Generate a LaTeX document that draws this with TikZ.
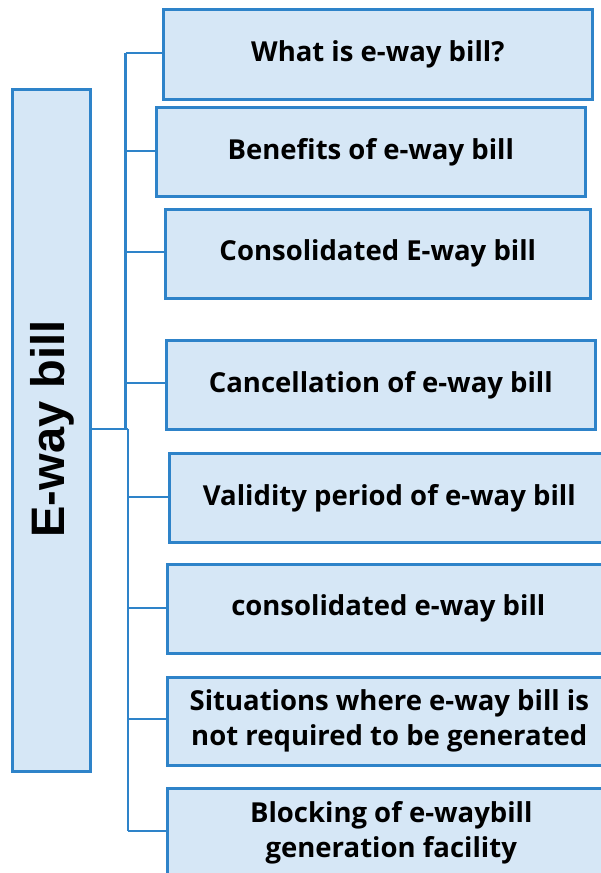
\documentclass[tikz,border=0pt]{standalone}
\usepackage{fontspec}
\setmainfont{Open Sans}
\newfontfamily\mainlabelfont{Liberation Sans}
\definecolor{edgeblue}{HTML}{2E83C9}
\definecolor{boxfill}{HTML}{D6E7F6}
\begin{document}
\begin{tikzpicture}[x=1pt,y=-1pt,
  topicbox/.style={draw=edgeblue, fill=boxfill, line width=2.6pt, inner sep=0pt,
    anchor=north west, align=center, font=\fontsize{27.5}{35}\selectfont\bfseries},
  mainbox/.style={draw=edgeblue, fill=boxfill, line width=2.6pt, inner sep=0pt,
    anchor=north west},
  link/.style={draw=edgeblue, line width=2.4pt}]
\clip (0,0) rectangle (601,873);
\fill[white] (0,0) rectangle (601,873);
% main box
\node[mainbox, minimum width=78pt, minimum height=682pt] (main) at (11,88) {};
\node[rotate=90, font=\mainlabelfont\fontsize{47}{47}\selectfont\bfseries] (mainlabel) at (52,429) {E-way bill};
% topic boxes
\node[topicbox, minimum width=429pt, minimum height=90pt] (b1) at (162,8) {What is e-way bill?};
\node[topicbox, minimum width=429pt, minimum height=89pt] (b2) at (155,106) {Benefits of e-way bill};
\node[topicbox, minimum width=425pt, minimum height=89pt] (b3) at (164,208) {Consolidated E-way bill};
\node[topicbox, minimum width=429pt, minimum height=89pt] (b4) at (165,339) {Cancellation of e-way bill};
\node[topicbox, minimum width=440pt, minimum height=89pt] (b5) at (168,452) {Validity period of e-way bill};
\node[topicbox, minimum width=442pt, minimum height=89pt] (b6) at (166,563) {consolidated e-way bill};
\node[topicbox, minimum width=444pt, minimum height=88pt] (b7) at (166,676) {Situations where e-way bill is\\not required to be generated};
\node[topicbox, minimum width=448pt, minimum height=88pt] (b8) at (166,787) {Blocking of e-waybill\\generation facility};
% connector coordinates
\coordinate (hub) at (128,429);
\coordinate (u1) at (125.5,53);
\coordinate (u2) at (125.5,151);
\coordinate (u3) at (125.5,252);
\coordinate (u4) at (125.5,383);
\coordinate (utop) at (125.5,429);
\coordinate (l5) at (128,497);
\coordinate (l6) at (128,608);
\coordinate (l7) at (128,719);
\coordinate (l8) at (128,831);
% connectors
\draw[link] (main.east |- hub) -- (hub);
\draw[link] (u1) -- (utop);
\draw[link] (hub) -- (l8);
\draw[link] (u1) -- (b1.west |- u1);
\draw[link] (u2) -- (b2.west |- u2);
\draw[link] (u3) -- (b3.west |- u3);
\draw[link] (u4) -- (b4.west |- u4);
\draw[link] (l5) -- (b5.west |- l5);
\draw[link] (l6) -- (b6.west |- l6);
\draw[link] (l7) -- (b7.west |- l7);
\draw[link] (l8) -- (b8.west |- l8);
\end{tikzpicture}
\end{document}
